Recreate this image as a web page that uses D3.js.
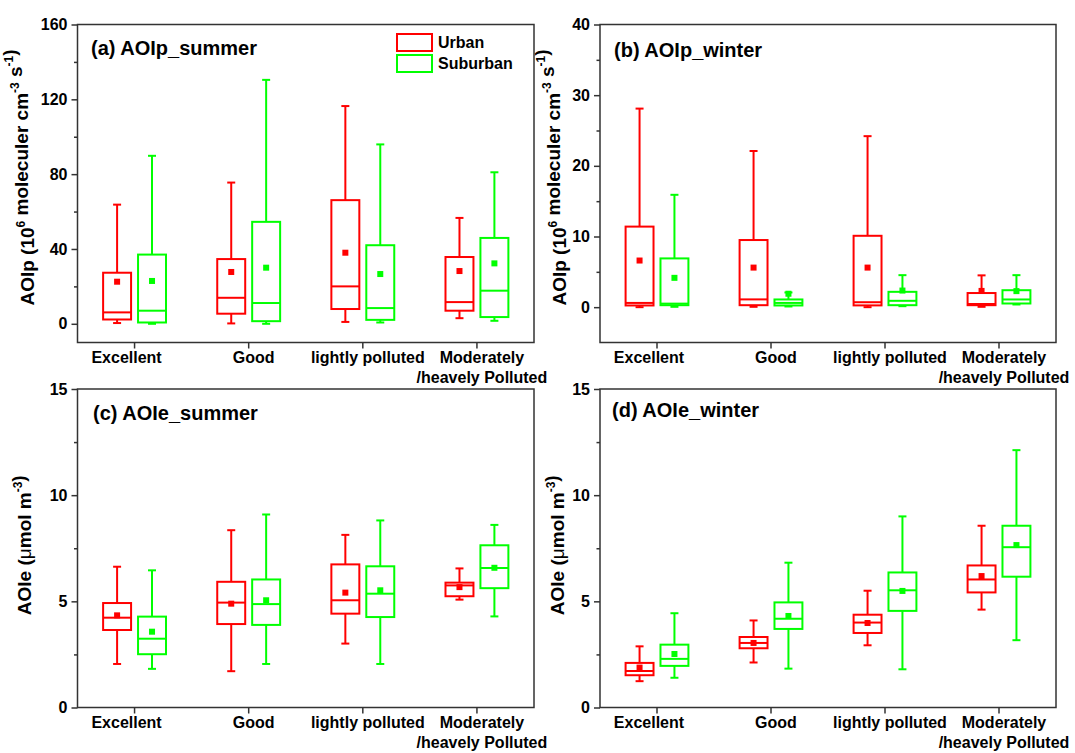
<!DOCTYPE html>
<html>
<head>
<meta charset="utf-8">
<script src="https://cdn.jsdelivr.net/npm/d3@7"></script>
<style>
  body { margin: 0; background: #fff; }
  text { font-family: Arial, "Liberation Sans", sans-serif; font-weight: bold; fill: #000; }
</style>
</head>
<body>
<svg id="chart" width="1075" height="753"></svg>
<script>
// Air-quality categories on the x axis
const categories = ["Excellent", "Good", "lightly polluted", "Moderately\n/heavely Polluted"];
const seriesNames = ["Urban", "Suburban"];
const seriesColors = ["#ff0000", "#00ff00"];

// Each row: [whisker low, Q1, median, Q3, whisker high, mean], one row per category
const aoipSummerUrban = [
  [0.4, 2.3, 6.1, 27.3, 63.7, 22.5],
  [0.2, 5.4, 13.9, 34.6, 75.5, 27.7],
  [1.0, 7.9, 20.0, 66.1, 116.4, 38.0],
  [3.0, 7.0, 11.6, 35.7, 56.6, 28.2]
];
const aoipSummerSuburban = [
  [0.0, 0.7, 7.0, 37.0, 89.8, 22.9],
  [0.0, 1.4, 11.1, 54.5, 130.4, 30.0],
  [0.7, 2.1, 8.4, 42.0, 95.9, 26.6],
  [1.6, 3.6, 17.7, 45.9, 81.0, 32.3]
];
const aoipWinterUrban = [
  [0.0, 0.24, 0.6, 11.4, 28.1, 6.6],
  [0.05, 0.28, 1.1, 9.5, 22.1, 5.6],
  [0.0, 0.25, 0.7, 10.1, 24.2, 5.6],
  [0.05, 0.28, 0.45, 2.0, 4.5, 2.3]
];
const aoipWinterSuburban = [
  [0.05, 0.28, 0.5, 6.9, 15.9, 4.15],
  [0.1, 0.24, 0.6, 1.09, 2.08, 1.9],
  [0.14, 0.28, 0.9, 2.17, 4.53, 2.35],
  [0.38, 0.52, 1.09, 2.4, 4.53, 2.27]
];
const aoieSummerUrban = [
  [2.05, 3.65, 4.23, 4.92, 6.63, 4.34],
  [1.71, 3.93, 4.94, 5.92, 8.35, 4.89],
  [3.01, 4.42, 5.05, 6.74, 8.13, 5.41],
  [5.08, 5.24, 5.75, 5.88, 6.55, 5.67]
];
const aoieSummerSuburban = [
  [1.82, 2.51, 3.24, 4.28, 6.46, 3.57],
  [2.05, 3.89, 4.87, 6.03, 9.09, 5.05],
  [2.05, 4.26, 5.36, 6.65, 8.81, 5.52],
  [4.29, 5.62, 6.57, 7.64, 8.6, 6.58]
];
const aoieWinterUrban = [
  [1.24, 1.52, 1.72, 2.1, 2.88, 1.88],
  [2.12, 2.79, 3.04, 3.32, 4.1, 3.04],
  [2.93, 3.51, 4.0, 4.37, 5.5, 3.98],
  [4.61, 5.42, 6.03, 6.69, 8.56, 6.19]
];
const aoieWinterSuburban = [
  [1.4, 1.96, 2.29, 2.96, 4.44, 2.52],
  [1.83, 3.7, 4.18, 4.95, 6.82, 4.31],
  [1.8, 4.55, 5.52, 6.36, 9.0, 5.49],
  [3.17, 6.16, 7.55, 8.56, 12.12, 7.65]
];

// Axis ranges and tick values
const aoipSummerDomain = [-10, 160];
const aoipSummerTicks = [0, 40, 80, 120, 160];
const aoipSummerMinor = [20, 60, 100, 140];
const aoipWinterDomain = [-5, 40];
const aoipWinterTicks = [0, 10, 20, 30, 40];
const aoipWinterMinor = [5, 15, 25, 35];
const aoieDomain = [0, 15];
const aoieTicks = [0, 5, 10, 15];
const aoieMinor = [2.5, 7.5, 12.5];

const panels = [
  { title: "(a) AOIp_summer", data: [aoipSummerUrban, aoipSummerSuburban],
    domain: aoipSummerDomain, ticks: aoipSummerTicks, minor: aoipSummerMinor, unit: "aoip",
    box: { left: 77.5, right: 534, top: 24.5, bottom: 342.5 },
    titlePos: [91, 55], yTitleX: 27, legend: true },
  { title: "(b) AOIp_winter", data: [aoipWinterUrban, aoipWinterSuburban],
    domain: aoipWinterDomain, ticks: aoipWinterTicks, minor: aoipWinterMinor, unit: "aoip",
    box: { left: 600, right: 1056, top: 24.5, bottom: 342.5 },
    titlePos: [614, 57], yTitleX: 559 },
  { title: "(c) AOIe_summer", data: [aoieSummerUrban, aoieSummerSuburban],
    domain: aoieDomain, ticks: aoieTicks, minor: aoieMinor, unit: "aoie",
    box: { left: 77.5, right: 534, top: 389, bottom: 707.5 },
    titlePos: [93, 420], yTitleX: 24 },
  { title: "(d) AOIe_winter", data: [aoieWinterUrban, aoieWinterSuburban],
    domain: aoieDomain, ticks: aoieTicks, minor: aoieMinor, unit: "aoie",
    box: { left: 600, right: 1056, top: 389, bottom: 707.5 },
    titlePos: [612, 417], yTitleX: 557 }
];

const svg = d3.select("#chart");
const axisColor = "#333";

// Rotated y-axis title with superscript exponents
function yTitle(g, unit, x, yc) {
  const t = g.append("text")
    .attr("transform", `translate(${x},${yc}) rotate(-90)`)
    .attr("text-anchor", "middle")
    .attr("dominant-baseline", "central")
    .style("font-size", "19px");
  const sup = (s) => {
    t.append("tspan").attr("dy", -6).style("font-size", "12px").text(s);
    t.append("tspan").attr("dy", 6).text("");
  };
  if (unit === "aoip") {
    t.append("tspan").text("AOIp (10");
    sup("6");
    t.append("tspan").text(" moleculer cm");
    sup("-3");
    t.append("tspan").text(" s");
    sup("-1");
    t.append("tspan").text(")");
  } else {
    t.append("tspan").text("AOIe (");
    t.append("tspan").style("font-weight", "normal").text("\u03bc");
    t.append("tspan").text("mol m");
    sup("-3");
    t.append("tspan").text(")");
  }
}

panels.forEach(p => {
  const b = p.box;
  const g = svg.append("g");

  const x = d3.scaleBand().domain(categories).range([b.left, b.right]).padding(0);
  const y = d3.scaleLinear().domain(p.domain).range([b.bottom, b.top]);
  const bw = x.bandwidth();
  const boxW = bw * 0.245;
  const offsets = [-0.153 * bw, 0.153 * bw];
  const capW = 8;
  const markSize = 6;

  // Frame
  g.append("rect")
    .attr("x", b.left).attr("y", b.top)
    .attr("width", b.right - b.left).attr("height", b.bottom - b.top)
    .attr("fill", "none").attr("stroke", axisColor).attr("stroke-width", 1.5);

  // Y axis: major ticks with labels, minor ticks without
  const yAxis = g.append("g").attr("transform", `translate(${b.left},0)`)
    .call(d3.axisLeft(y).tickValues(p.ticks).tickSize(6).tickPadding(4).tickFormat(d3.format("d")));
  yAxis.select(".domain").remove();
  yAxis.selectAll(".tick line").attr("stroke", axisColor).attr("stroke-width", 1.5);
  yAxis.selectAll(".tick text").style("font-size", "16px").style("font-family", null);

  const yMinor = g.append("g").attr("transform", `translate(${b.left},0)`)
    .call(d3.axisLeft(y).tickValues(p.minor).tickSize(3.5).tickFormat(""));
  yMinor.select(".domain").remove();
  yMinor.selectAll(".tick line").attr("stroke", axisColor).attr("stroke-width", 1.5);

  // X axis: ticks at category centres, two-line labels
  const xAxis = g.append("g").attr("transform", `translate(0,${b.bottom})`)
    .call(d3.axisBottom(x).tickSize(6).tickFormat(""));
  xAxis.select(".domain").remove();
  xAxis.selectAll(".tick line").attr("stroke", axisColor).attr("stroke-width", 1.5);

  categories.forEach((c, ci) => {
    const lines = c.split("\n");
    const lx = x(c) + bw / 2 + (ci === 0 ? -8 : 5);
    const t = g.append("text")
      .attr("x", lx)
      .attr("y", b.bottom + 20.5)
      .attr("text-anchor", "middle")
      .style("font-size", "16px");
    lines.forEach((ln, i) => {
      t.append("tspan").attr("x", lx).attr("dy", i === 0 ? 0 : 20).text(ln);
    });
  });

  // Panel title
  g.append("text").attr("x", p.titlePos[0]).attr("y", p.titlePos[1])
    .style("font-size", "20px").text(p.title);

  // Y axis title
  yTitle(g, p.unit, p.yTitleX, (b.top + b.bottom) / 2 - (p.unit === "aoip" ? 6 : 3));

  // Boxes
  p.data.forEach((series, si) => {
    const col = seriesColors[si];
    const sg = g.append("g").attr("stroke", col).attr("stroke-width", 2).attr("fill", "none");
    series.forEach((r, ci) => {
      const [lo, q1, med, q3, hi, mean] = r;
      const cx = x(categories[ci]) + bw / 2 + offsets[si];
      // whiskers
      sg.append("line").attr("x1", cx).attr("x2", cx).attr("y1", y(q3)).attr("y2", y(hi));
      sg.append("line").attr("x1", cx).attr("x2", cx).attr("y1", y(q1)).attr("y2", y(lo));
      sg.append("line").attr("x1", cx - capW / 2).attr("x2", cx + capW / 2).attr("y1", y(hi)).attr("y2", y(hi));
      sg.append("line").attr("x1", cx - capW / 2).attr("x2", cx + capW / 2).attr("y1", y(lo)).attr("y2", y(lo));
      // box and median
      sg.append("rect").attr("x", cx - boxW / 2).attr("y", y(q3))
        .attr("width", boxW).attr("height", Math.max(0.5, y(q1) - y(q3)));
      sg.append("line").attr("x1", cx - boxW / 2).attr("x2", cx + boxW / 2).attr("y1", y(med)).attr("y2", y(med));
      // mean marker
      g.append("rect").attr("x", cx - markSize / 2).attr("y", y(mean) - markSize / 2)
        .attr("width", markSize).attr("height", markSize).attr("fill", col);
    });
  });

  // Legend
  if (p.legend) {
    seriesNames.forEach((name, i) => {
      const ly = 34 + i * 21;
      g.append("rect").attr("x", 397).attr("y", ly).attr("width", 35).attr("height", 17)
        .attr("fill", "none").attr("stroke", seriesColors[i]).attr("stroke-width", 2);
      g.append("text").attr("x", 438).attr("y", ly + 14).style("font-size", "16px").text(name);
    });
  }
});
</script>
</body>
</html>
